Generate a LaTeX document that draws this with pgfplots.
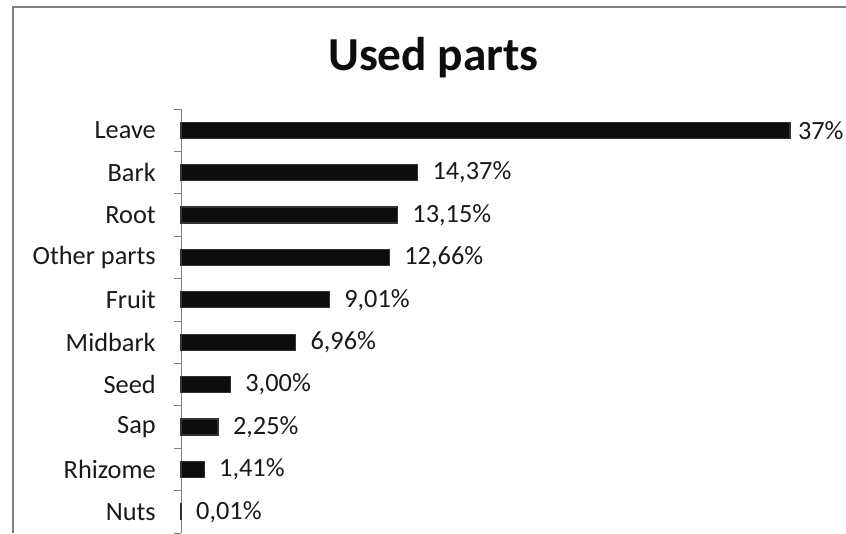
\documentclass[border=0pt]{standalone}
\usepackage{pgfplots}
\pgfplotsset{compat=1.18}
\usepackage{fontspec}
\setmainfont{Carlito}

% 1 unit of the layout grid = 0.75pt
\newcommand{\lblfont}{\fontsize{19.75}{23}\selectfont}

\begin{document}
\begin{tikzpicture}
  % outer frame (left and top edges)
  \draw[color=black!50, line width=1.5pt] (9.75pt,-399.75pt) -- (9.75pt,-5.25pt) -- (634.5pt,-5.25pt);

  % title
  \node[anchor=base, font=\bfseries\fontsize{35.5}{40}\selectfont, text=black!95]
    at (325.1pt,-52.5pt) {Used parts};

  \begin{axis}[
    at={(135.75pt,-81.75pt)}, anchor=north west,
    scale only axis, width=456.75pt, height=318pt,
    xmin=0, xmax=37, ymin=-0.5, ymax=9.5, y dir=reverse,
    xbar, bar width=12pt,
    hide x axis,
    axis y line*=left,
    y axis line style={draw=black!50, line width=0.75pt},
    ytick={0,...,9},
    yticklabels={Leave,Bark,Root,Other parts,Fruit,Midbark,Seed,Sap,Rhizome,Nuts},
    yticklabel style={font=\lblfont, text=black!90, inner sep=0pt, xshift=-18.75pt, anchor=east},
    major tick length=0pt,
    minor ytick={-0.5,0.5,...,9.5},
    minor tick length=5.25pt,
    tick align=outside,
    minor tick style={draw=black!50, line width=0.75pt},
    clip=false,
    point meta=explicit symbolic,
    nodes near coords={\pgfplotspointmeta\%},
    every node near coord/.append style={anchor=west, inner sep=0pt, font=\lblfont, text=black!90},
    bars/.style={bar shift=0pt, fill=black!95, draw=black!80, line width=1pt},
  ]
    % largest share, label set closer to the bar end
    \addplot[bars, every node near coord/.append style={xshift=5.5pt}]
      coordinates {(37,0) [37]};
    \addplot[bars, every node near coord/.append style={xshift=10.75pt}]
      coordinates {
        (14.37,1) [14,37]
        (13.15,2) [13,15]
        (12.66,3) [12,66]
        (9.01,4)  [9,01]
        (6.96,5)  [6,96]
        (3.00,6)  [3,00]
        (2.25,7)  [2,25]
        (1.41,8)  [1,41]
        (0.01,9)  [0,01]
      };
  \end{axis}

  \pgfresetboundingbox
  \useasboundingbox (0pt,0pt) rectangle (634.5pt,-399.75pt);
\end{tikzpicture}
\end{document}
